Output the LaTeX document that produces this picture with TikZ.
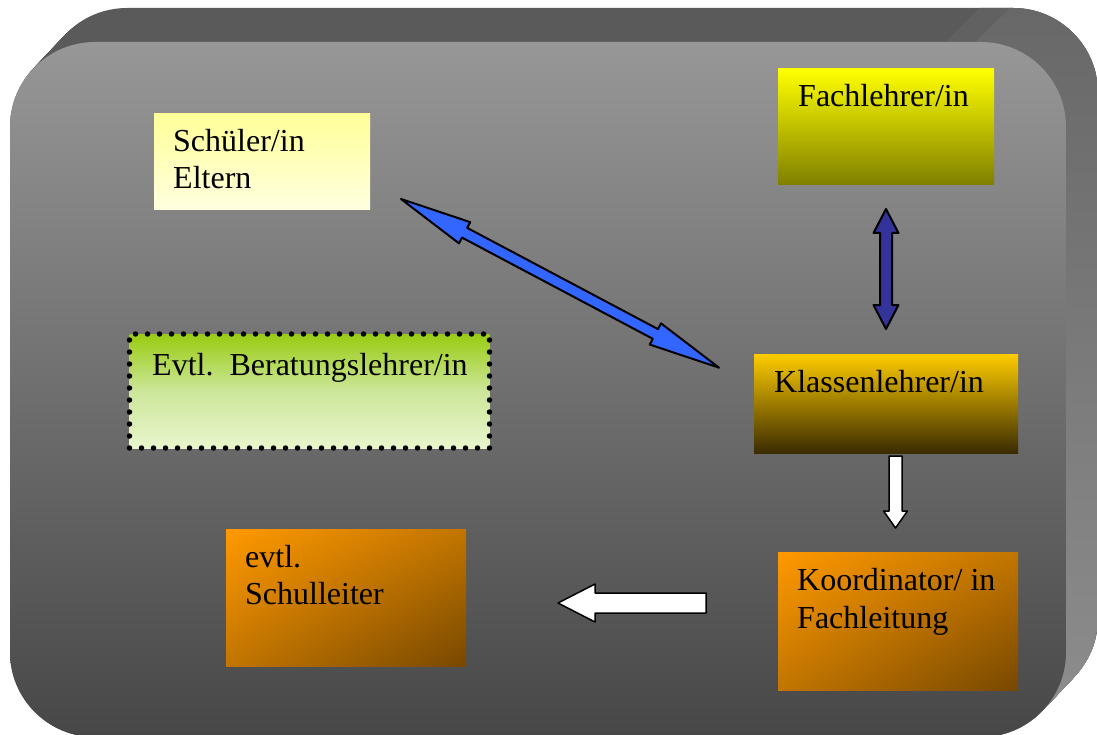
\documentclass[tikz,border=0pt]{standalone}
\usepackage{fontspec}
\setmainfont{Liberation Serif}
\usetikzlibrary{calc,shadings}
\definecolor{sidedark}{HTML}{5A5A5A}
\definecolor{sidemid}{HTML}{616161}
\definecolor{sidetop}{HTML}{686868}
\definecolor{sidebot}{HTML}{8C8C8C}
\definecolor{frontTop}{HTML}{979797}
\definecolor{frontBot}{HTML}{474747}
\definecolor{schTop}{HTML}{FFFF99}
\definecolor{schBot}{HTML}{FFFFE0}
\definecolor{fachTop}{HTML}{FFFF00}
\definecolor{fachBot}{HTML}{7F7F00}
\definecolor{klTop}{HTML}{FFCC00}
\definecolor{klBot}{HTML}{3A2B00}
\definecolor{orTL}{HTML}{FF9900}
\definecolor{orMid}{HTML}{C27500}
\definecolor{orBR}{HTML}{774800}
\definecolor{grTop}{HTML}{99CC11}
\definecolor{grMid}{HTML}{CCE69A}
\definecolor{grBot}{HTML}{E9F6CD}
\definecolor{blueArr}{HTML}{3366FF}
\definecolor{purpArr}{HTML}{333399}
\newcommand{\dblarrow}[6]{%
  \draw[#6] let \p1=($(#2)-(#1)$), \n1={atan2(\y1,\x1)} in
   (#1) -- ($(#1)+(\n1:#4)+({\n1+90}:#5)$) -- ($(#1)+(\n1:#4)+({\n1+90}:#3)$)
   -- ($(#2)+(\n1:-#4)+({\n1+90}:#3)$) -- ($(#2)+(\n1:-#4)+({\n1+90}:#5)$)
   -- (#2) -- ($(#2)+(\n1:-#4)+({\n1-90}:#5)$) -- ($(#2)+(\n1:-#4)+({\n1-90}:#3)$)
   -- ($(#1)+(\n1:#4)+({\n1-90}:#3)$) -- ($(#1)+(\n1:#4)+({\n1-90}:#5)$) -- cycle;}
\newcommand{\sglarrow}[6]{%
  \draw[#6] let \p1=($(#2)-(#1)$), \n1={atan2(\y1,\x1)} in
   ($(#1)+({\n1+90}:#3)$) -- ($(#2)+(\n1:-#4)+({\n1+90}:#3)$)
   -- ($(#2)+(\n1:-#4)+({\n1+90}:#5)$) -- (#2)
   -- ($(#2)+(\n1:-#4)+({\n1-90}:#5)$) -- ($(#2)+(\n1:-#4)+({\n1-90}:#3)$)
   -- ($(#1)+({\n1-90}:#3)$) -- cycle;}
\begin{document}
\begin{tikzpicture}[x=1pt,y=-1pt,
  box/.style={anchor=north west, inner sep=0pt, outer sep=0pt, draw=none},
  txt/.style={anchor=base west, inner sep=0pt, font=\fontsize{32}{38}\selectfont},
  arrowline/.style={draw=black, line join=round},
  orangebox/.style={upper left=orTL, upper right=orMid, lower left=orMid, lower right=orBR},
  frame/.style={rounded corners=85pt}
]
\useasboundingbox (0,0) rectangle (1097,735);
\clip (0,0) rectangle (1097,735);
% extrusion of the 3D frame
\foreach \i in {0,...,32} {
  \fill[sidedark, frame] ({10+\i},{42-\i*34/32}) rectangle ++(1056,695);
}
\begin{scope}
  \clip (990,-2) -- (1110,-2) -- (1110,800) -- (880,800) -- (880,108) -- cycle;
  \foreach \i in {0,...,32} {
    \fill[sidemid, frame] ({10+\i},{42-\i*34/32}) rectangle ++(1056,695);
  }
\end{scope}
\begin{scope}
  \clip (1020,-2) -- (1110,-2) -- (1110,800) -- (880,800) -- (880,138) -- cycle;
  \foreach \i in {0,...,32} {
    \shade[top color=sidetop, bottom color=sidebot, frame] ({10+\i},{42-\i*34/32}) rectangle ++(1056,695);
  }
\end{scope}
% front face
\shade[top color=frontTop, bottom color=frontBot, frame] (10,42) rectangle (1066,737);

% boxes
\node[box, top color=schTop, bottom color=schBot, minimum width=216pt, minimum height=96pt] (schueler) at (154,114) {};
\node[box, top color=fachTop, bottom color=fachBot, minimum width=216pt, minimum height=116pt] (fach) at (778,69) {};
\node[box, top color=grTop, bottom color=grBot, middle color=grMid, minimum width=360pt, minimum height=114pt,
      draw=black, line width=5.5pt, dash pattern=on 0pt off 12pt, line cap=round] (beratung) at (129.5,334) {};
\node[box, top color=klTop, bottom color=klBot, minimum width=264pt, minimum height=99pt] (klasse) at (754,354) {};
\node[box, orangebox, minimum width=240pt, minimum height=138pt] (koord) at (778,552) {};
\node[box, orangebox, minimum width=240pt, minimum height=137pt] (leiter) at (226,529) {};

% texts
\node[txt] (t1) at (173,152) {Schüler/in};
\node[txt] (t2) at (173,189) {Eltern};
\node[txt] (t3) at (798,107) {Fachlehrer/in};
\node[txt] (t4) at (152,375) {Evtl.\hspace{16pt}Beratungslehrer/in};
\node[txt] (t5) at (774,392) {Klassenlehrer/in};
\node[txt] (t6) at (797,590) {Koordinator/ in};
\node[txt] (t7) at (797,628) {Fachleitung};
\node[txt] (t8) at (245,567) {evtl.};
\node[txt] (t9) at (245,604) {Schulleiter};

% arrow end points
\coordinate (bA) at (401,199);
\coordinate (bB) at (719,367.7);
\coordinate (pA) at (886,209);
\coordinate (pB) at (886,329);
\coordinate (dA) at (895.5,456);
\coordinate (dB) at (895.5,528);
\coordinate (lA) at (706,603);
\coordinate (lB) at (558,603);

\dblarrow{bA}{bB}{5.5pt}{72pt}{12pt}{arrowline, fill=blueArr, line width=2pt}
\dblarrow{pA}{pB}{6pt}{24pt}{12.5pt}{arrowline, fill=purpArr, line width=2pt}
\sglarrow{dA}{dB}{6.5pt}{17pt}{12pt}{arrowline, fill=white, line width=1.5pt}
\sglarrow{lA}{lB}{10pt}{37pt}{19pt}{arrowline, fill=white, line width=1.5pt}
\end{tikzpicture}
\end{document}
